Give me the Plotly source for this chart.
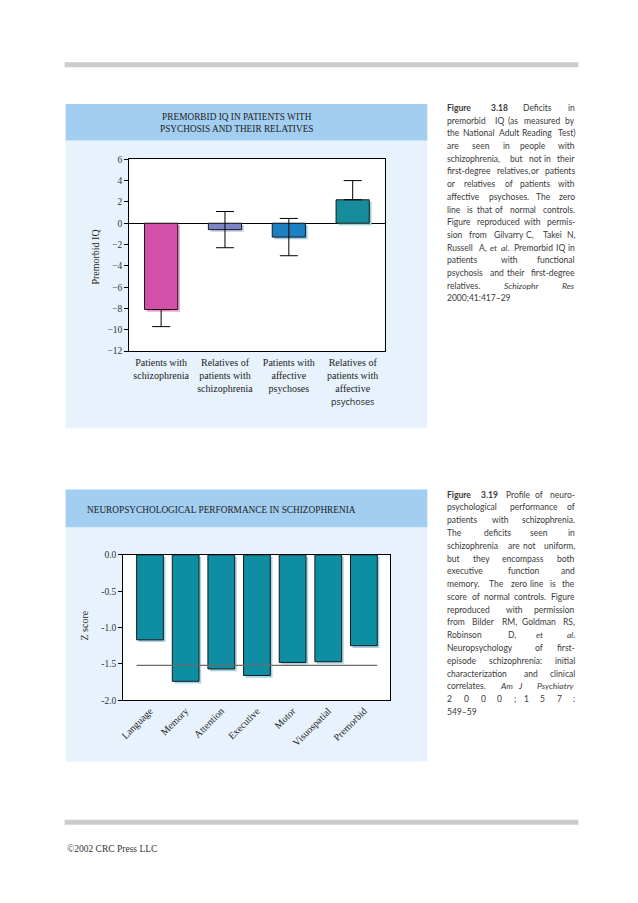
import re
import plotly.graph_objects as go

W, H = 638, 903

# ---------------- Data: Figure 3.18 ----------------
iq_categories = [
    "Patients with<br>schizophrenia",
    "Relatives of<br>patients with<br>schizophrenia",
    "Patients with<br>affective<br>psychoses",
    "Relatives of<br>patients with<br>affective<br><span style='font-family:Open Sans;font-size:9px'>psychoses</span>",
]
iq_values = [-8.1, -0.6, -1.3, 2.2]
iq_err_plus = [0.0, 1.7, 1.75, 1.8]
iq_err_minus = [1.6, 1.7, 1.75, 0.0]
iq_colors = ["#D44FA8", "#7C86C6", "#1C80C2", "#168C9D"]
iq_shadow_colors = ["#EAAAD4", "#C2C7E7", "#A0CAE8", "#A0CED6"]
iq_yticks = [6, 4, 2, 0, -2, -4, -6, -8, -10, -12]
iq_yticktext = ["6", "4", "2", "0", "\u22122", "\u22124", "\u22126", "\u22128", "\u221210", "\u221212"]

# ---------------- Data: Figure 3.19 ----------------
np_categories = ["Language", "Memory", "Attention", "Executive", "Motor", "Visuospatial", "Premorbid"]
np_values = [-1.17, -1.74, -1.57, -1.66, -1.48, -1.47, -1.25]
np_reference = -1.52
np_yticks = [0.0, -0.5, -1.0, -1.5, -2.0]
np_yticktext = ["0.0", "-0.5", "-1.0", "-1.5", "-2.0"]

caption1 = [
    ("<b>Figure</b> <b>3.18</b> Deficits in", True),
    ("premorbid IQ (as measured by", True),
    ("the National Adult Reading Test)", True),
    ("are seen in people with", True),
    ("schizophrenia, but not in their", True),
    ("first-degree relatives, or patients", True),
    ("or relatives of patients with", True),
    ("affective psychoses. The zero", True),
    ("line is that of normal controls.", True),
    ("Figure reproduced with permis-", True),
    ("sion from Gilvarry C, Takei N,", True),
    ("Russell A, <i>et</i> <i>al</i>. Premorbid IQ in", True),
    ("patients with functional", True),
    ("psychosis and their first-degree", True),
    ("relatives. <i>Schizophr</i> <i>Res</i>", True),
    ("2000;41:417\u201329", False),
]
caption2 = [
    ("<b>Figure</b> <b>3.19</b> Profile of neuro-", True),
    ("psychological performance of", True),
    ("patients with schizophrenia.", True),
    ("The deficits seen in", True),
    ("schizophrenia are not uniform,", True),
    ("but they encompass both", True),
    ("executive function and", True),
    ("memory. The zero line is the", True),
    ("score of normal controls. Figure", True),
    ("reproduced with permission", True),
    ("from Bilder RM, Goldman RS,", True),
    ("Robinson D, <i>et</i> <i>al</i>.", True),
    ("Neuropsychology of first-", True),
    ("episode schizophrenia: initial", True),
    ("characterization and clinical", True),
    ("correlates. <i>Am</i> <i>J</i> <i>Psychiatry</i>", True),
    ("2 0 0 0 ; 1 5 7 :", True),
    ("549\u201359", False),
]


def px(x):
    return x / W


def py(y):
    return 1 - y / H


SERIF = "Liberation Serif, Times New Roman, serif"
SANS = "Lato, Open Sans, sans-serif"

fig = go.Figure()

# ---- Chart 1 traces ----
w1 = 0.52
dx1, dy1 = 0.035, 0.2
fig.add_trace(go.Bar(
    x=list(range(len(iq_values))), y=iq_values, base=[-dy1] * len(iq_values),
    width=w1, offset=-w1 / 2 + dx1,
    marker=dict(color=iq_shadow_colors, line=dict(width=0)),
    xaxis="x", yaxis="y", showlegend=False, hoverinfo="skip"))
fig.add_trace(go.Bar(
    x=list(range(len(iq_values))), y=iq_values, width=w1,
    marker=dict(color=iq_colors, line=dict(color="#1a1a1a", width=1)),
    error_y=dict(type="data", symmetric=False, array=iq_err_plus, arrayminus=iq_err_minus,
                 color="black", thickness=1, width=9),
    xaxis="x", yaxis="y", showlegend=False))

# ---- Chart 2 traces ----
w2 = 0.75
dx2, dy2 = 0.06, 0.03
n2 = len(np_values)
fig.add_trace(go.Bar(
    x=list(range(n2)), y=np_values, base=[-dy2] * n2, width=w2, offset=-w2 / 2 + dx2,
    marker=dict(color="#A9D3E6", line=dict(width=0)),
    xaxis="x2", yaxis="y2", showlegend=False, hoverinfo="skip"))
fig.add_trace(go.Bar(
    x=list(range(n2)), y=np_values, width=w2,
    marker=dict(color="#0E8EA2", line=dict(color="#1a1a1a", width=1)),
    xaxis="x2", yaxis="y2", showlegend=False))
fig.add_trace(go.Scatter(
    x=[0 - w2 / 2, n2 - 1 + w2 / 2], y=[np_reference, np_reference], mode="lines",
    line=dict(color="#6b6b6b", width=1.3), xaxis="x2", yaxis="y2",
    showlegend=False, hoverinfo="skip"))

# ---- Shapes: page rules, panels, white plot areas ----
shapes = []


def rect(x0, y0, x1, y1, color):
    shapes.append(dict(type="rect", xref="paper", yref="paper",
                       x0=px(x0), x1=px(x1), y0=py(y1), y1=py(y0),
                       fillcolor=color, line=dict(width=0), layer="below"))


rect(61, 58, 578, 63, "#CBCBCB")
rect(61, 824, 578, 829, "#CBCBCB")
rect(62, 137, 426, 428, "#E8F2FD")
rect(62, 100, 426, 137, "#A2CEF1")
rect(62, 528, 426, 765, "#E8F2FD")
rect(62, 490, 426, 528, "#A2CEF1")
for xr, yr in (("x", "y"), ("x2", "y2")):
    shapes.append(dict(type="rect", xref=xr + " domain", yref=yr + " domain",
                       x0=0, x1=1, y0=0, y1=1, fillcolor="white",
                       line=dict(width=0), layer="below"))

# ---- Annotations ----
ann = []
ann.append(dict(x=px(234), y=py(119), xref="paper", yref="paper", showarrow=False,
                text="PREMORBID IQ IN PATIENTS WITH<br>PSYCHOSIS AND THEIR RELATIVES",
                font=dict(family=SERIF, size=9.3, color="#222"), xanchor="center", yanchor="middle"))
ann.append(dict(x=px(82), y=py(511), xref="paper", yref="paper", showarrow=False,
                text="NEUROPSYCHOLOGICAL PERFORMANCE IN SCHIZOPHRENIA",
                font=dict(family=SERIF, size=9.3, color="#222"), xanchor="left", yanchor="middle"))
ann.append(dict(x=px(92), y=py(254), xref="paper", yref="paper", showarrow=False,
                text="Premorbid IQ", textangle=-90,
                font=dict(family=SERIF, size=10, color="#222"), xanchor="center", yanchor="middle"))
ann.append(dict(x=px(81), y=py(627), xref="paper", yref="paper", showarrow=False,
                text="Z score", textangle=-90,
                font=dict(family=SERIF, size=10, color="#222"), xanchor="center", yanchor="middle"))
ann.append(dict(x=px(61), y=py(853), xref="paper", yref="paper", showarrow=False,
                text="\u00a92002 CRC Press LLC",
                font=dict(family=SERIF, size=9.5, color="#333"), xanchor="left", yanchor="middle"))

# Justified captions (approximate Lato advance widths, em units)
CW = {
    'a': .51, 'b': .56, 'c': .45, 'd': .56, 'e': .52, 'f': .32, 'g': .50, 'h': .56, 'i': .24,
    'j': .24, 'k': .50, 'l': .24, 'm': .84, 'n': .56, 'o': .56, 'p': .56, 'q': .56, 'r': .36,
    's': .42, 't': .34, 'u': .56, 'v': .49, 'w': .74, 'x': .48, 'y': .49, 'z': .44,
    '.': .22, ',': .22, ';': .22, ':': .22, '-': .32, '(': .30, ')': .30, '\u2013': .5, ' ': .19,
    'I': .28, 'M': .84, 'W': .95, 'J': .36,
}
CAL = 1.1


def tw(tok, size):
    plain = re.sub(r"<[^>]+>", "", tok)
    w = 0
    for ch in plain:
        if ch in CW:
            w += CW[ch]
        elif ch.isdigit():
            w += .58
        elif ch.isupper():
            w += .64
        else:
            w += .5
    if "<b>" in tok:
        w *= 1.06
    return w * size * CAL


CAP_SIZE = 8.5
CAP_FONT = dict(family=SANS, size=CAP_SIZE, color="#3a3a3a")


def word(x, y, t, anchor):
    ann.append(dict(x=px(x), y=py(y), xref="paper", yref="paper", showarrow=False,
                    text=t, font=CAP_FONT, xanchor=anchor, yanchor="middle"))


def caption(lines, x0, x1, y0, step):
    for i, (txt, just) in enumerate(lines):
        y = y0 + i * step
        toks = txt.split(" ")
        if not just or len(toks) == 1:
            word(x0, y, txt, "left")
            continue
        n = len(toks)
        widths = [tw(t, CAP_SIZE) for t in toks]
        gap = (x1 - x0 - sum(widths)) / (n - 1)
        half = (n + 1) // 2
        pos = x0
        for k in range(half):
            word(pos, y, toks[k], "left")
            pos += widths[k] + gap
        pos = x1
        for k in range(n - 1, half - 1, -1):
            word(pos, y, toks[k], "right")
            pos -= widths[k] + gap


caption(caption1, 444, 577, 104, 12.85)
caption(caption2, 444, 577, 495, 12.94)

axis_common = dict(showline=True, mirror=True, linecolor="black", linewidth=1,
                   showgrid=False, fixedrange=True)
tickfont = dict(family=SERIF, size=10, color="#222")

fig.update_layout(
    width=W, height=H, autosize=False,
    margin=dict(l=0, r=0, t=0, b=0),
    paper_bgcolor="white", plot_bgcolor="white",
    barmode="overlay", showlegend=False,
    shapes=shapes, annotations=ann,
    xaxis=dict(domain=[px(126), px(383)], anchor="y", range=[-0.5, 3.5],
               tickmode="array", tickvals=list(range(4)), ticktext=iq_categories,
               ticks="", tickfont=tickfont, zeroline=False, ticklabelstandoff=2,
               **axis_common),
    yaxis=dict(domain=[py(350), py(156)], anchor="x", range=[-12, 6],
               tickmode="array", tickvals=iq_yticks, ticktext=iq_yticktext,
               ticks="outside", ticklen=4, tickcolor="black",
               tickfont=dict(family=SERIF, size=9.5, color="#333"),
               zeroline=True, zerolinecolor="black", zerolinewidth=1,
               **axis_common),
    xaxis2=dict(domain=[px(120), px(388)], anchor="y2", range=[-0.75, 6.72],
                tickmode="array", tickvals=list(range(n2)), ticktext=np_categories,
                tickangle=-45, ticks="", tickfont=dict(family=SERIF, size=10, color="#222"),
                zeroline=False, **axis_common),
    yaxis2=dict(domain=[py(703), py(556)], anchor="x2", range=[-2, 0],
                tickmode="array", tickvals=np_yticks, ticktext=np_yticktext,
                ticks="outside", ticklen=4, tickcolor="black",
                tickfont=dict(family=SERIF, size=9.5, color="#333"),
                zeroline=False, **axis_common),
)

fig.write_html("out.html", config={"displayModeBar": False, "staticPlot": True},
               post_script="document.body.style.margin='0';document.body.style.padding='0';")
